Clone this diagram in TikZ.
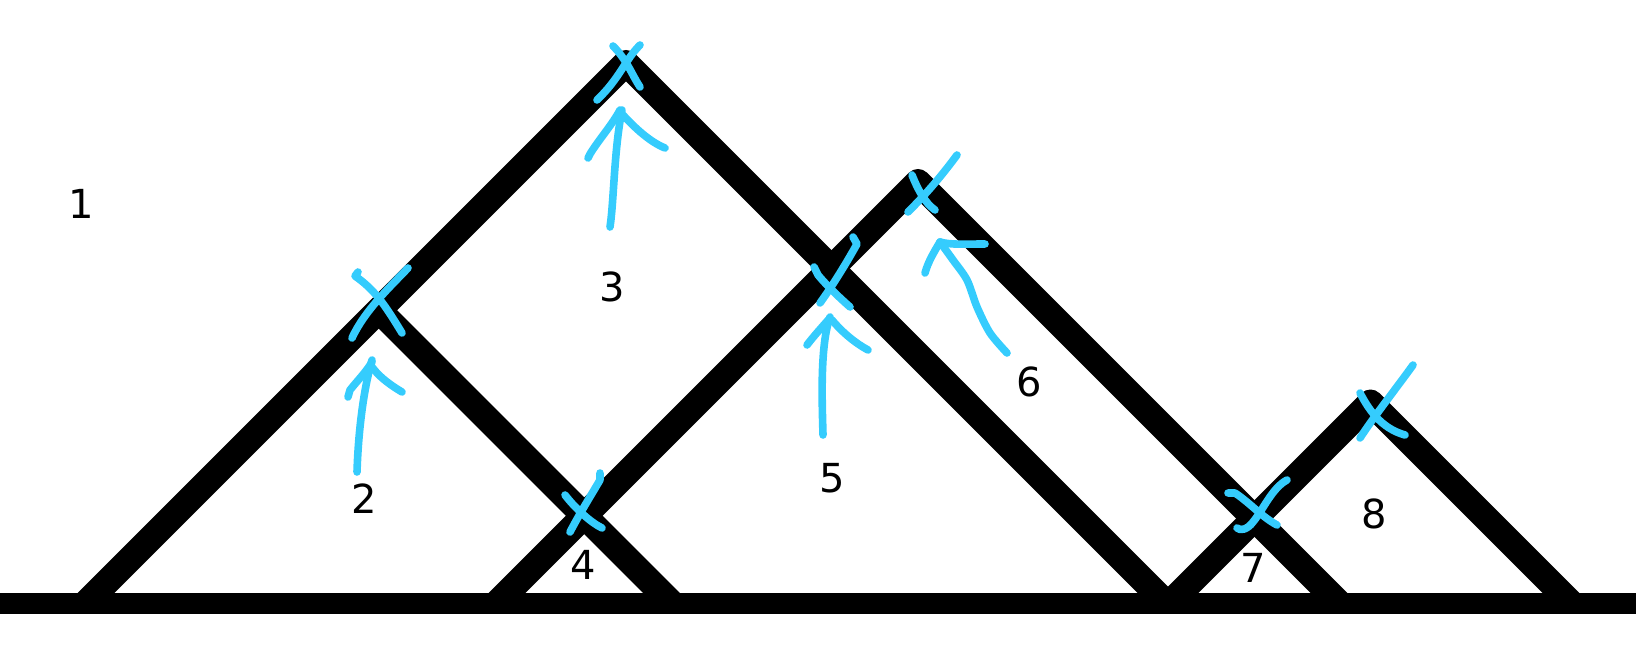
\documentclass[tikz,border=0pt]{standalone}
\usepackage{fontspec}
\setmainfont{DejaVu Sans}
\definecolor{penblue}{HTML}{35CCFD}
\begin{document}
\begin{tikzpicture}[x=0.5pt,y=-0.5pt,
  ridge/.style={line width=13pt, line join=round},
  ground/.style={line width=10.5pt},
  pen/.style={draw=penblue, line width=3.8pt, line cap=round, line join=round},
  lab/.style={inner sep=0pt, font=\fontsize{20}{24}\selectfont}]
\useasboundingbox (0,0) rectangle (1636,646);
% vertices
\coordinate (gl) at (0,603.5);
\coordinate (gr) at (1636,603.5);
\coordinate (a0) at (85.5,603.5);
\coordinate (p1) at (626,63);
\coordinate (b0) at (1166.5,603.5);
\coordinate (c1) at (378.75,310.25);
\coordinate (c0) at (672,603.5);
\coordinate (d0) at (496.5,603.5);
\coordinate (p3) at (918,182);
\coordinate (e0) at (1339.5,603.5);
\coordinate (f0) at (1169.5,603.5);
\coordinate (p4) at (1370.5,402.5);
\coordinate (g0) at (1571.5,603.5);
% black lines
\draw[ridge] (a0) -- (p1) -- (b0);
\draw[ridge] (c1) -- (c0);
\draw[ridge] (d0) -- (p3) -- (e0);
\draw[ridge] (f0) -- (p4) -- (g0);
\draw[ground] (gl) -- (gr);
% labels
\node[lab] (n1) at (81,204) {1};
\node[lab] (n2) at (364,499) {2};
\node[lab] (n3) at (612,287) {3};
\node[lab] (n4) at (583,565) {4};
\node[lab] (n5) at (832,478) {5};
\node[lab] (n6) at (1029,382) {6};
\node[lab] (n7) at (1253,568) {7};
\node[lab] (n8) at (1374,514) {8};
% blue marks
% top X
\draw[pen] (613,46) .. controls (627,60) and (632,75) .. (640,87);
\draw[pen] (640,45) .. controls (625,60) and (620,78) .. (597,100);
% arrow 3
\draw[pen] (610,227) .. controls (614,200) and (614,150) .. (622,110);
\draw[pen] (588,158) -- (590,154) .. controls (600,138) and (612,125) .. (620,110);
\draw[pen] (623,115) .. controls (635,128) and (650,142) .. (665,148);
% X on left side
\draw[pen] (358,272) -- (355,276) .. controls (375,290) and (385,305) .. (402,333);
\draw[pen] (408,268) .. controls (390,287) and (365,310) .. (352,338);
% arrow 2
\draw[pen] (357,472) .. controls (358,440) and (362,395) .. (372,360);
\draw[pen] (348,397) -- (350,390) .. controls (358,380) and (366,372) .. (372,362);
\draw[pen] (372,367) .. controls (380,378) and (392,386) .. (402,392);
% X 4
\draw[pen] (600,473) -- (600,480) .. controls (590,497) and (580,513) .. (570,532);
\draw[pen] (565,495) .. controls (575,508) and (590,522) .. (602,528);
% X on crossing above 5
\draw[pen] (853,237) -- (857,244) .. controls (847,262) and (833,285) .. (820,303);
\draw[pen] (814,267) -- (818,275) .. controls (828,287) and (840,298) .. (850,307);
% arrow 5
\draw[pen] (823,435) .. controls (822,400) and (820,345) .. (830,317);
\draw[pen] (807,345) .. controls (813,337) and (822,327) .. (830,318);
\draw[pen] (832,320) .. controls (842,332) and (855,343) .. (868,350);
% X at apex 6
\draw[pen] (912,175) .. controls (918,190) and (925,203) .. (935,210);
\draw[pen] (957,155) .. controls (940,178) and (925,195) .. (908,212);
% arrow 6
\draw[pen] plot[smooth] coordinates {(1007,353) (990,333) (977,307) (967,280) (953,260) (940,242)};
\draw[pen] (925,273) .. controls (928,262) and (934,252) .. (940,242);
\draw[pen] (940,242) .. controls (950,245) and (965,244) .. (985,244);
% X 7
\draw[pen] (1228,493) -- (1235,493) .. controls (1250,503) and (1262,517) .. (1277,525);
\draw[pen] (1287,480) .. controls (1272,488) and (1263,510) .. (1253,522) .. controls (1247,530) and (1240,531) .. (1237,528);
% X 8
\draw[pen] (1413,365) .. controls (1395,390) and (1375,415) .. (1360,438);
\draw[pen] (1360,393) .. controls (1368,408) and (1380,428) .. (1405,435);
\end{tikzpicture}
\end{document}
